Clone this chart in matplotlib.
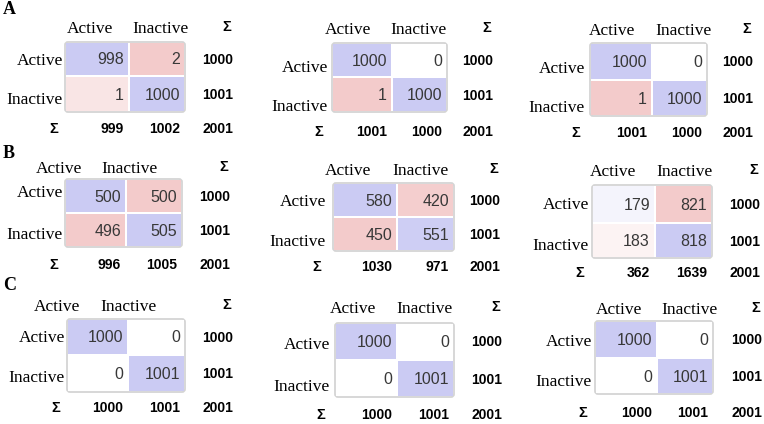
import colorsys
import numpy as np
import matplotlib
matplotlib.use("Agg")
import matplotlib.pyplot as plt
from matplotlib.patches import Rectangle, FancyBboxPatch

classes = ["Active", "Inactive"]
tags = ["A", "B", "C"]

# confusion matrices, rows = actual, cols = predicted
cm_a1 = [[998, 2], [1, 1000]]
cm_a2 = [[1000, 0], [1, 1000]]
cm_a3 = [[1000, 0], [1, 1000]]
cm_b1 = [[500, 500], [496, 505]]
cm_b2 = [[580, 420], [450, 551]]
cm_b3 = [[179, 821], [183, 818]]
cm_c1 = [[1000, 0], [0, 1001]]
cm_c2 = [[1000, 0], [0, 1001]]
cm_c3 = [[1000, 0], [0, 1001]]
matrices = [cm_a1, cm_a2, cm_a3, cm_b1, cm_b2, cm_b3, cm_c1, cm_c2, cm_c3]

# pixel layout of each pasted screenshot:
# box x0, y0, x-divider, x1, y-divider, y1, header y, header x (2), sums right edge,
# row label right edge, row label y (2), bottom sum row y
layout = [
    (65, 42, 129, 185, 76, 112, 29, 90, 160, 233, 63, 61, 100, 129),
    (332, 43, 392, 447, 77, 112, 30, 348, 418, 493, 328, 68, 107, 132),
    (590, 43, 652, 707, 80, 116, 31, 612, 683, 753, 585, 69, 108, 133),
    (65, 179, 126, 182, 213, 247, 169, 59, 129, 230, 63, 193, 235, 265),
    (333, 183, 397, 454, 217, 251, 171, 348, 420, 500, 326, 202, 242, 267),
    (592, 185, 655, 712, 223, 258, 172, 613, 684, 760, 589, 205, 246, 273),
    (67, 319, 128, 185, 355, 392, 307, 57, 128, 233, 65, 338, 378, 408),
    (335, 323, 397, 454, 360, 397, 309, 353, 424, 502, 330, 345, 387, 415),
    (595, 321, 657, 713, 358, 394, 310, 619, 689, 762, 592, 342, 382, 413),
]
tag_y = [10, 154, 285]

SERIF = ["Liberation Serif", "DejaVu Serif"]
NUM = ["Liberation Sans Narrow", "Liberation Sans", "DejaVu Sans"]
BOLD = ["Liberation Sans", "DejaVu Sans"]


def cell_colors(cm):
    # Orange style: blue diagonal, red off-diagonal, lightness by share of max
    m = np.array(cm, dtype=float)
    diag = np.eye(2, dtype=bool)
    off = np.where(diag, 0, m)
    div = off.max() if off.max() > 0 else 1
    v = off / div
    v[diag] = m[diag] / m[diag].max()
    cols = [[None, None], [None, None]]
    for i in range(2):
        for j in range(2):
            hue = 240 if i == j else 0
            cols[i][j] = colorsys.hls_to_rgb(hue / 360, (255 - 32 * v[i, j]) / 255, 160 / 255)
    return cols


fig = plt.figure(figsize=(7.64, 4.24), dpi=100)
ax = fig.add_axes([0, 0, 1, 1])
ax.set_xlim(0, 764)
ax.set_ylim(424, 0)
ax.axis("off")

for cm, lay in zip(matrices, layout):
    x0, y0, xd, x1, yd, y1, hy, hx1, hx2, sr, lx, ly1, ly2, sy = lay
    cm = np.array(cm)
    cols = cell_colors(cm)
    xs = [(x0, xd), (xd, x1)]
    ys = [(y0, yd), (yd, y1)]

    ax.add_patch(FancyBboxPatch((x0, y0), x1 - x0, y1 - y0,
                                boxstyle="round,pad=0,rounding_size=3",
                                fc="white", ec="#d4d4d4", lw=1.3))
    for i in range(2):
        for j in range(2):
            a, b = xs[j]
            c, d = ys[i]
            ax.add_patch(Rectangle((a + 1, c + 1), b - a - 2, d - c - 2,
                                   fc=cols[i][j], ec="none"))
            ax.text(b - 5, (c + d) / 2 + 1, str(cm[i, j]), ha="right", va="center",
                    fontsize=11.5, family=NUM, color="#383838")

    # headers
    for hx, name in zip((hx1, hx2), classes):
        ax.text(hx, hy, name, ha="center", va="center", fontsize=12.5, family=SERIF, color="black")
    ax.text(sr - 2, hy - 2, "Σ", ha="right", va="center", fontsize=10.5, family=BOLD,
            weight="bold", color="black")

    # row labels and row sums
    row_sums = cm.sum(axis=1)
    for i, (name, ly) in enumerate(zip(classes, (ly1, ly2))):
        ax.text(lx, ly, name, ha="right", va="center", fontsize=12.5, family=SERIF, color="black")
        c, d = ys[i]
        ax.text(sr, (c + d) / 2 + 1, str(row_sums[i]), ha="right", va="center",
                fontsize=10, family=BOLD, weight="bold", color="black")

    # column sums
    col_sums = cm.sum(axis=0)
    ax.text(lx - 5, sy, "Σ", ha="right", va="center", fontsize=10.5, family=BOLD,
            weight="bold", color="black")
    for j in range(2):
        ax.text(xs[j][1] - 5, sy, str(col_sums[j]), ha="right", va="center",
                fontsize=10, family=BOLD, weight="bold", color="black")
    ax.text(sr, sy, str(cm.sum()), ha="right", va="center", fontsize=10, family=BOLD,
            weight="bold", color="black")

for t, y in zip(tags, tag_y):
    ax.text(3, y, t, ha="left", va="center", fontsize=13, family=SERIF, weight="bold")

fig.savefig("out.png", dpi=100)
